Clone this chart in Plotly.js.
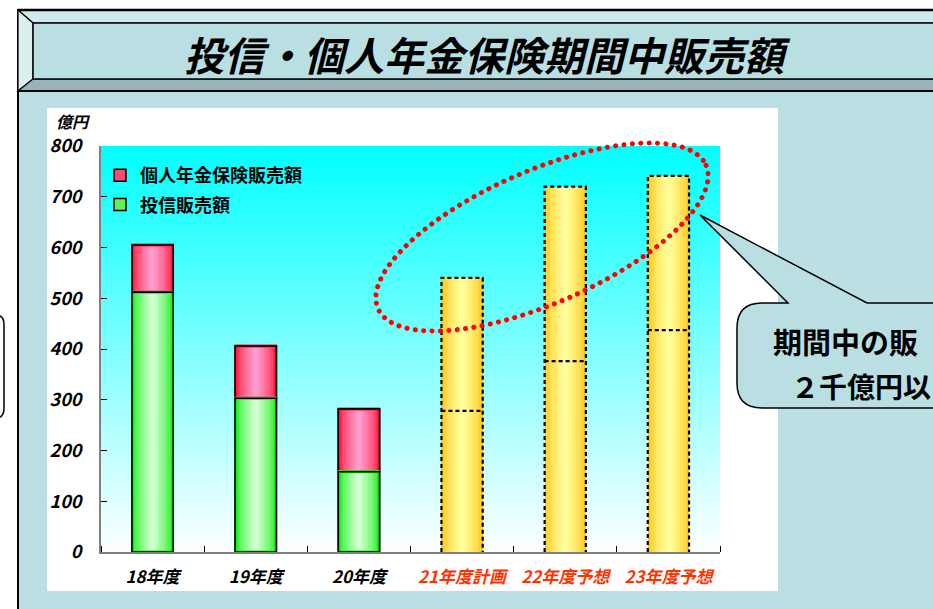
<!DOCTYPE html>
<html><head><meta charset="utf-8">
<script src="https://cdn.plot.ly/plotly-3.0.1.min.js"></script>
<style>
html,body{margin:0;padding:0;background:#fff;overflow:hidden}
#chart{width:933px;height:609px}
.shapelayer path[style*="stroke: rgb(255, 0, 0)"]{stroke-linecap:round}
</style></head><body><div id="chart"></div>
<script>
// ---------- data ----------
const categories = ['18年度','19年度','20年度','21年度計画','22年度予想','23年度予想'];
const fundSales = [512, 303, 158, 278, 376, 437];      // 投信販売額 (億円)
const annuitySales = [93, 103, 124, 262, 344, 304];    // 個人年金保険販売額 (億円)
const isForecast = [false, false, false, true, true, true];
const yTickValues = [0, 100, 200, 300, 400, 500, 600, 700, 800];
const seriesNames = ['個人年金保険販売額', '投信販売額'];
const unitLabel = '億円';
const chartTitle = '投信・個人年金保険期間中販売額';
const calloutLines = ['期間中の販', '２千億円以'];   // callout is cropped at the right edge of the slide

// ---------- geometry helpers (pixels -> paper) ----------
const W = 933, H = 609, PL = 101, PR = 720, PT = 146, PB = 552;
const X = p => (p - PL) / (PR - PL);
const Y = p => (PB - p) / (PB - PT);
const FONT = "'Noto Sans CJK JP','Noto Sans',sans-serif";

function hex2rgb(h){h=h.replace('#','');return [0,2,4].map(i=>parseInt(h.substr(i,2),16));}
function mix(a,b,t){const A=hex2rgb(a),B=hex2rgb(b);return 'rgb('+A.map((v,i)=>Math.round(v+(B[i]-v)*t)).join(',')+')';}

const traces = [];
// background gradient of the plot area
traces.push({type:'scatter', x:[0,1,1,0,0], y:[0,0,1,1,0], xaxis:'x', yaxis:'y', mode:'lines',
  fill:'toself', line:{width:0, color:'rgba(0,0,0,0)'},
  fillgradient:{type:'vertical', colorscale:[[0,'#ffffff'],[1,'#00ffff']]},
  showlegend:false, hoverinfo:'skip'});

const BAR_W = 0.40, NL = 12;
function gradientBars(xs, tops, bases, edge, center, legendName, outline){
  for(let k=0;k<NL;k++){
    const t = Math.pow(k/(NL-1), 0.7);
    const w = BAR_W*(1 - k/NL);
    const first = k===0;
    traces.push({type:'bar', xaxis:'x2', yaxis:'y2', x:xs, y:tops, base:bases,
      width:xs.map(()=>w),
      marker:{color:mix(edge,center,first&&outline?0.35:t), line:{color: first&&outline?'#000':'rgba(0,0,0,0)', width: first&&outline?1.5:0}},
      name: legendName||'', legendgroup: legendName||'', showlegend: !!legendName && first, hoverinfo:'skip'});
  }
  if(outline){
    traces.push({type:'bar', xaxis:'x2', yaxis:'y2', x:xs, y:tops, base:bases, width:xs.map(()=>BAR_W*0.96),
      marker:{color:'rgba(0,0,0,0)', line:{color:mix(edge,center,0.0), width:3}}, showlegend:false, hoverinfo:'skip'});
    traces.push({type:'bar', xaxis:'x2', yaxis:'y2', x:xs, y:tops, base:bases, width:xs.map(()=>BAR_W),
      marker:{color:'rgba(0,0,0,0)', line:{color:'#000', width:1.6}}, showlegend:false, hoverinfo:'skip'});
  }
}

const actIdx = categories.map((c,i)=>i).filter(i=>!isForecast[i]);
const fcIdx = categories.map((c,i)=>i).filter(i=>isForecast[i]);

// actual: annuity (pink) stacked on fund (green)
gradientBars(actIdx, actIdx.map(i=>annuitySales[i]), actIdx.map(i=>fundSales[i]), '#ff1a3c', '#ff9ccf', seriesNames[0], true);
gradientBars(actIdx, actIdx.map(i=>fundSales[i]), actIdx.map(()=>0), '#1aee1a', '#d2ffd2', seriesNames[1], true);
// forecast: total bar in gold
gradientBars(fcIdx, fcIdx.map(i=>fundSales[i]+annuitySales[i]), fcIdx.map(()=>0), '#ffc61a', '#ffff9c', null, false);
// dashed outlines + split line for forecast bars
fcIdx.forEach(i=>{
  const l=i-BAR_W/2, r=i+BAR_W/2, top=fundSales[i]+annuitySales[i], mid=fundSales[i];
  traces.push({type:'scatter', xaxis:'x2', yaxis:'y2', mode:'lines',
    x:[l,l,r,r,null,l,r], y:[0,top,top,0,null,mid,mid],
    line:{color:'#000', width:2.2, dash:'4px,3px'}, showlegend:false, hoverinfo:'skip', cliponaxis:false});
});

// ---------- decorative shapes ----------
const shapes = [];
function rectPx(x0,y0,x1,y1,fill,lc,lw,layer){
  shapes.push({type:'rect', xref:'paper', yref:'paper', x0:X(x0), x1:X(x1), y0:Y(y1), y1:Y(y0),
    fillcolor:fill, line:{color:lc||'rgba(0,0,0,0)', width:lw||0}, layer:layer||'below'});
}
function pathPx(pts, fill, lc, lw, layer, closed, extra){
  let d = pts.map((p,i)=>(typeof p==='string'?p:((i===0?'M':'L')+X(p[0]).toFixed(5)+','+Y(p[1]).toFixed(5)))).join(' ');
  if(closed) d += ' Z';
  shapes.push(Object.assign({type:'path', xref:'paper', yref:'paper', path:d, fillcolor:fill||'rgba(0,0,0,0)',
    line:{color:lc||'rgba(0,0,0,0)', width:lw||0}, layer:layer||'below'}, extra||{}));
}
// slide frame
rectPx(18,10,960,640,'#bbdfe2','#000',2);
// banner with bevels
pathPx([[18,10],[960,10],[960,23],[33,23]], '#cfe9ec', '#000', 1.2, 'below', true);
pathPx([[18,10],[33,23],[33,79],[18,91]], '#dbeff1', '#000', 1.2, 'below', true);
pathPx([[18,91],[33,79],[960,79],[960,91]], '#97b4b6', '#000', 1.2, 'below', true);
rectPx(33,23,960,79,'#b9dfe3','#000',1.5);
pathPx([[18,10],[960,10]], null, '#000', 2.5, 'below', false);
pathPx([[18,91],[960,91]], null, '#000', 2, 'below', false);
// white chart area
rectPx(47,108,778,591,'#ffffff');
// partial box at left edge
pathPx([[-30,315],[-4,315],'Q'+X(4).toFixed(5)+','+Y(315).toFixed(5)+' '+X(4).toFixed(5)+','+Y(325).toFixed(5),[4,408],
  'Q'+X(4).toFixed(5)+','+Y(418).toFixed(5)+' '+X(-4).toFixed(5)+','+Y(418).toFixed(5),[-30,418]], '#ffffff','#000',1.5,'below',false);

// callout with tail
(function(){
  const q=(cx,cy,x,y)=>'Q'+X(cx).toFixed(5)+','+Y(cy).toFixed(5)+' '+X(x).toFixed(5)+','+Y(y).toFixed(5);
  pathPx([[788,303],[700,215],[867,303],[960,303],[960,408],[762,408],q(737,408,737,383),[737,328],q(737,303,762,303)],
    '#b9dfe3','#000',1.5,'above',true);
})();

// dotted ellipse
(function(){
  const cx=542, cy=237, a=179, b=66.4, phi=-23.6*Math.PI/180, pts=[];
  for(let k=0;k<=180;k++){
    const th=2*Math.PI*k/180;
    pts.push([cx+a*Math.cos(th)*Math.cos(phi)-b*Math.sin(th)*Math.sin(phi),
              cy+a*Math.cos(th)*Math.sin(phi)+b*Math.sin(th)*Math.cos(phi)]);
  }
  pathPx(pts, null, '#ff0000', 5, 'above', true, {line:{color:'#ff0000', width:5, dash:'0.1px,8.3px'}});
})();

const layout = {
  width:W, height:H, margin:{l:PL, r:W-PR, t:PT, b:H-PB, pad:0},
  paper_bgcolor:'#ffffff', plot_bgcolor:'rgba(0,0,0,0)',
  barmode:'overlay', bargap:0,
  font:{family:FONT, color:'#000'},
  xaxis:{range:[0,1], visible:false, fixedrange:true},
  yaxis:{range:[0,1], visible:false, fixedrange:true},
  xaxis2:{overlaying:'x', anchor:'y2', range:[-0.5,5.5], tickmode:'array', tickvals:categories.map((c,i)=>i),
    ticktext:categories.map((c,i)=>isForecast[i]?'<span style="color:#ff3300">'+c+'</span>':c),
    ticks:'', showline:true, linecolor:'#808080', linewidth:2, showgrid:false, zeroline:false,
    tickfont:{family:FONT, size:17, weight:700, style:'italic', color:'#000'}, ticklabelstandoff:9,
    minor:{tickmode:'array', tickvals:[-0.5,0.5,1.5,2.5,3.5,4.5,5.5], ticks:'inside', ticklen:6, tickcolor:'#000', tickwidth:1, showgrid:false}},
  yaxis2:{overlaying:'y', anchor:'x2', range:[0,800], tickmode:'array', tickvals:yTickValues,
    ticks:'inside', ticklen:6, tickcolor:'#000', tickwidth:1, showline:true, linecolor:'#808080', linewidth:2,
    showgrid:false, zeroline:false, tickfont:{family:FONT, size:18, weight:700, style:'italic', color:'#000'}, ticklabelstandoff:14},
  legend:{x:X(100), y:Y(157), xanchor:'left', yanchor:'top', bgcolor:'rgba(0,0,0,0)', traceorder:'grouped', tracegroupgap:3,
    font:{family:FONT, size:18, weight:700, color:'#000'}},
  shapes:shapes,
  annotations:[
    {xref:'paper', yref:'paper', x:X(487), y:Y(54), text:chartTitle, showarrow:false, xanchor:'center', yanchor:'middle',
     font:{family:FONT, size:40, weight:700, style:'italic', color:'#000'}},
    {xref:'paper', yref:'paper', x:X(73), y:Y(121), text:unitLabel, showarrow:false, xanchor:'center', yanchor:'middle',
     font:{family:FONT, size:16, weight:700, style:'italic', color:'#000'}},
    {xref:'paper', yref:'paper', x:X(771), y:Y(341), text:calloutLines[0], showarrow:false, xanchor:'left', yanchor:'middle',
     font:{family:FONT, size:29, weight:700, color:'#000'}},
    {xref:'paper', yref:'paper', x:X(789), y:Y(386), text:calloutLines[1], showarrow:false, xanchor:'left', yanchor:'middle',
     font:{family:FONT, size:28, weight:700, color:'#000'}}
  ]
};
Plotly.newPlot('chart', traces, layout, {displayModeBar:false, staticPlot:true});
</script></body></html>
